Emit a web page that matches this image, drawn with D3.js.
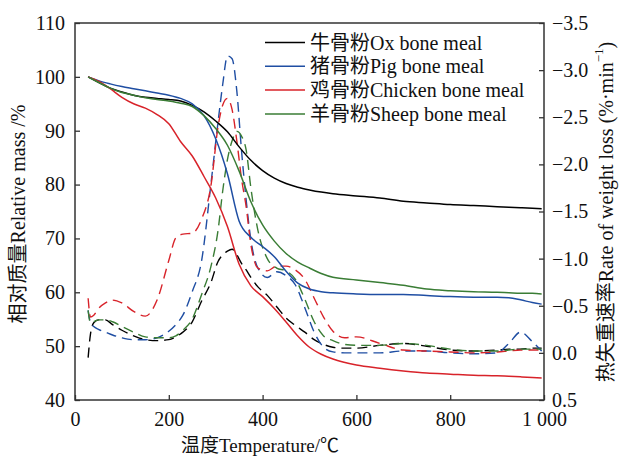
<!DOCTYPE html>
<html>
<head>
<meta charset="utf-8">
<script src="https://cdn.jsdelivr.net/npm/d3@7/dist/d3.min.js"></script>
<style>
  html, body { margin: 0; padding: 0; background: #fff; }
  svg text { font-family: "Liberation Serif", "Times New Roman", "Noto Sans CJK SC", serif; fill: #111; }
</style>
</head>
<body>
<svg id="chart" width="621" height="458"></svg>
<script>
// ---- Data -------------------------------------------------------------
// Thermogravimetric (TG) curves: relative mass (%) against temperature (°C)
const tgTemps = [28, 50, 75, 100, 125, 150, 175, 200, 225, 250, 275, 300, 325, 350, 375, 400,
  425, 450, 475, 500, 525, 550, 600, 650, 700, 750, 800, 850, 900, 925, 950, 975, 995];
const tgOx = [100, 99.0, 97.9, 97.2, 96.6, 96.2, 96.0, 95.8, 95.5, 94.7, 93.5, 91.8, 89.8, 87.0, 84.5, 82.6,
  81.2, 80.2, 79.5, 79.0, 78.6, 78.3, 77.9, 77.5, 76.9, 76.6, 76.3, 76.1, 75.9, 75.8, 75.7, 75.6, 75.5];
const tgPig = [100, 99.3, 98.7, 98.2, 97.8, 97.4, 97.0, 96.6, 96.0, 95.0, 92.8, 88.5, 82.0, 73.2, 70.2, 68.5,
  66.6, 63.9, 61.7, 60.6, 60.1, 59.9, 59.7, 59.6, 59.6, 59.4, 59.2, 59.1, 59.1, 59.0, 58.6, 58.1, 57.8];
const tgChicken = [100, 99.2, 97.8, 96.2, 95.0, 94.2, 93.0, 91.3, 88.0, 85.3, 81.5, 77.5, 72.2, 65.2, 61.2, 59.2,
  57.0, 54.5, 51.9, 49.8, 48.5, 47.6, 46.5, 45.9, 45.4, 45.0, 44.8, 44.6, 44.5, 44.4, 44.3, 44.2, 44.1];
const tgSheep = [100, 99.0, 97.9, 97.1, 96.6, 96.1, 95.8, 95.5, 95.1, 94.5, 92.8, 90.4, 87.3, 82.5, 76.8, 72.5,
  69.5, 67.2, 65.6, 64.5, 63.5, 62.8, 62.3, 61.8, 61.3, 60.6, 60.3, 60.1, 60.0, 59.9, 59.8, 59.8, 59.7];

// Derivative (DTG) curves: rate of weight loss (%·min⁻¹) against temperature (°C)
const dtgTemps = [28, 33, 40, 50, 65, 80, 100, 125, 150, 175, 200, 215, 230, 250, 270, 290, 305, 315,
  325, 335, 345, 355, 365, 375, 390, 410, 430, 450, 470, 490, 510, 530, 550, 575, 600, 650, 700,
  750, 800, 850, 900, 925, 950, 975, 995];
const dtgOx = [0.05, -0.20, -0.32, -0.35, -0.35, -0.30, -0.24, -0.18, -0.14, -0.13, -0.14, -0.17, -0.22,
  -0.33, -0.55, -0.75, -0.97, -1.04, -1.08, -1.10, -1.04, -0.95, -0.88, -0.80, -0.70, -0.61, -0.49,
  -0.37, -0.29, -0.22, -0.14, -0.09, -0.06, -0.05, -0.05, -0.08, -0.10, -0.07, -0.03, -0.02, -0.03,
  -0.04, -0.04, -0.05, -0.05];
const dtgPig = [-0.45, -0.32, -0.28, -0.25, -0.22, -0.19, -0.16, -0.14, -0.14, -0.16, -0.23, -0.30, -0.40,
  -0.65, -0.98, -1.80, -2.45, -2.85, -3.15, -3.12, -2.78, -2.15, -1.62, -1.20, -0.90, -0.80, -0.86,
  -0.82, -0.72, -0.48, -0.22, -0.06, -0.01, 0.00, 0.00, 0.00, -0.02, -0.02, 0.00, 0.01, 0.00,
  -0.10, -0.22, -0.12, -0.02];
const dtgChicken = [-0.58, -0.38, -0.40, -0.47, -0.53, -0.56, -0.53, -0.44, -0.39, -0.56, -0.98, -1.22, -1.26,
  -1.27, -1.42, -1.78, -2.40, -2.63, -2.70, -2.58, -2.25, -1.85, -1.55, -1.15, -0.90, -0.87, -0.92,
  -0.92, -0.88, -0.78, -0.58, -0.38, -0.23, -0.16, -0.17, -0.10, -0.03, -0.02, -0.01, 0.00, -0.01,
  -0.02, -0.03, -0.03, -0.03];
const dtgSheep = [-0.45, -0.32, -0.33, -0.35, -0.35, -0.33, -0.28, -0.22, -0.17, -0.16, -0.16, -0.18, -0.24,
  -0.36, -0.62, -0.92, -1.30, -1.72, -2.05, -2.25, -2.35, -2.30, -2.15, -1.75, -1.30, -1.00, -0.90,
  -0.87, -0.78, -0.57, -0.33, -0.18, -0.13, -0.09, -0.08, -0.08, -0.10, -0.08, -0.04, -0.02, -0.02,
  -0.03, -0.04, -0.04, -0.04];

// Series names and legend labels
const seriesNames = ["牛骨粉Ox bone meal", "猪骨粉Pig bone meal", "鸡骨粉Chicken bone meal", "羊骨粉Sheep bone meal"];
const seriesColors = ["#000000", "#1f4ea3", "#d8232a", "#3a7d35"];

// Tick values
const xTicks = [0, 200, 400, 600, 800, 1000];
const yLeftTicks = [40, 50, 60, 70, 80, 90, 100, 110];
const yRightTicks = [-3.5, -3.0, -2.5, -2.0, -1.5, -1.0, -0.5, 0.0, 0.5];

// ---- Layout -----------------------------------------------------------
const svg = d3.select("#chart");
const plot = { left: 75, right: 544, top: 23, bottom: 400 };

const x = d3.scaleLinear().domain([0, 1000]).range([plot.left, plot.right]);
const yMass = d3.scaleLinear().domain([40, 110]).range([plot.bottom, plot.top]);
const yRate = d3.scaleLinear().domain([-3.5, 0.5]).range([plot.top, plot.bottom]);

const tgSeries = [tgOx, tgPig, tgChicken, tgSheep];
const dtgSeries = [dtgOx, dtgPig, dtgChicken, dtgSheep];

// ---- Curves -----------------------------------------------------------
const curves = svg.append("g");

const dtgLine = d3.line()
  .x(d => x(d[0])).y(d => yRate(d[1]))
  .curve(d3.curveMonotoneX);
const tgLine = d3.line()
  .x(d => x(d[0])).y(d => yMass(d[1]))
  .curve(d3.curveMonotoneX);

dtgSeries.forEach((vals, i) => {
  curves.append("path")
    .datum(dtgTemps.map((t, j) => [t, vals[j]]))
    .attr("d", dtgLine)
    .attr("fill", "none")
    .attr("stroke", seriesColors[i])
    .attr("stroke-width", 1.4)
    .attr("stroke-dasharray", "10,6");
});

tgSeries.forEach((vals, i) => {
  curves.append("path")
    .datum(tgTemps.map((t, j) => [t, vals[j]]))
    .attr("d", tgLine)
    .attr("fill", "none")
    .attr("stroke", seriesColors[i])
    .attr("stroke-width", 1.5);
});

// ---- Axes (ticks point inward) ----------------------------------------
const fmtX = d => d === 1000 ? "1 000" : String(d);
const fmtR = d3.format(".1f");

const xAxis = svg.append("g")
  .attr("transform", `translate(0,${plot.bottom})`)
  .call(d3.axisBottom(x).tickValues(xTicks).tickFormat(fmtX).tickSizeInner(-5).tickSizeOuter(0).tickPadding(12));
const yAxisL = svg.append("g")
  .attr("transform", `translate(${plot.left},0)`)
  .call(d3.axisLeft(yMass).tickValues(yLeftTicks).tickSizeInner(-5).tickSizeOuter(0).tickPadding(10));
const yAxisR = svg.append("g")
  .attr("transform", `translate(${plot.right},0)`)
  .call(d3.axisRight(yRate).tickValues(yRightTicks).tickFormat(fmtR).tickSizeInner(-5).tickSizeOuter(0).tickPadding(8));

[xAxis, yAxisL, yAxisR].forEach(g => {
  g.select(".domain").remove();
  g.selectAll(".tick line").attr("stroke", "#333").attr("stroke-width", 1.3);
  g.selectAll(".tick text").attr("font-size", 20).attr("fill", "#111")
    .style("font-family", '"Liberation Serif", "Times New Roman", serif');
});

// Frame around the plot area
svg.append("rect")
  .attr("x", plot.left).attr("y", plot.top)
  .attr("width", plot.right - plot.left).attr("height", plot.bottom - plot.top)
  .attr("fill", "none").attr("stroke", "#333").attr("stroke-width", 1.5);

// ---- Axis titles -------------------------------------------------------
svg.append("text")
  .attr("transform", "translate(18,214) rotate(-90)")
  .attr("text-anchor", "middle").attr("dominant-baseline", "central")
  .attr("font-size", 20)
  .text("相对质量Relative mass /%");

svg.append("text")
  .attr("x", 260).attr("y", 445)
  .attr("text-anchor", "middle").attr("dominant-baseline", "central")
  .attr("font-size", 19)
  .text("温度Temperature/℃");

const rightTitle = svg.append("text")
  .attr("transform", "translate(606,212) rotate(-90)")
  .attr("text-anchor", "middle").attr("dominant-baseline", "central")
  .attr("font-size", 20);
rightTitle.append("tspan").text("热失重速率Rate of weight loss (%·min");
rightTitle.append("tspan").attr("dy", -8).attr("font-size", 13).text("−1");
rightTitle.append("tspan").attr("dy", 8).text(")");

// ---- Legend -------------------------------------------------------------
const legend = svg.append("g");
seriesNames.forEach((name, i) => {
  const yy = 42.5 + i * 23.8;
  legend.append("line")
    .attr("x1", 265).attr("x2", 305).attr("y1", yy).attr("y2", yy)
    .attr("stroke", seriesColors[i]).attr("stroke-width", 1.5);
  legend.append("text")
    .attr("x", 310).attr("y", yy)
    .attr("dominant-baseline", "central")
    .attr("font-size", 20)
    .text(name);
});
</script>
</body>
</html>
